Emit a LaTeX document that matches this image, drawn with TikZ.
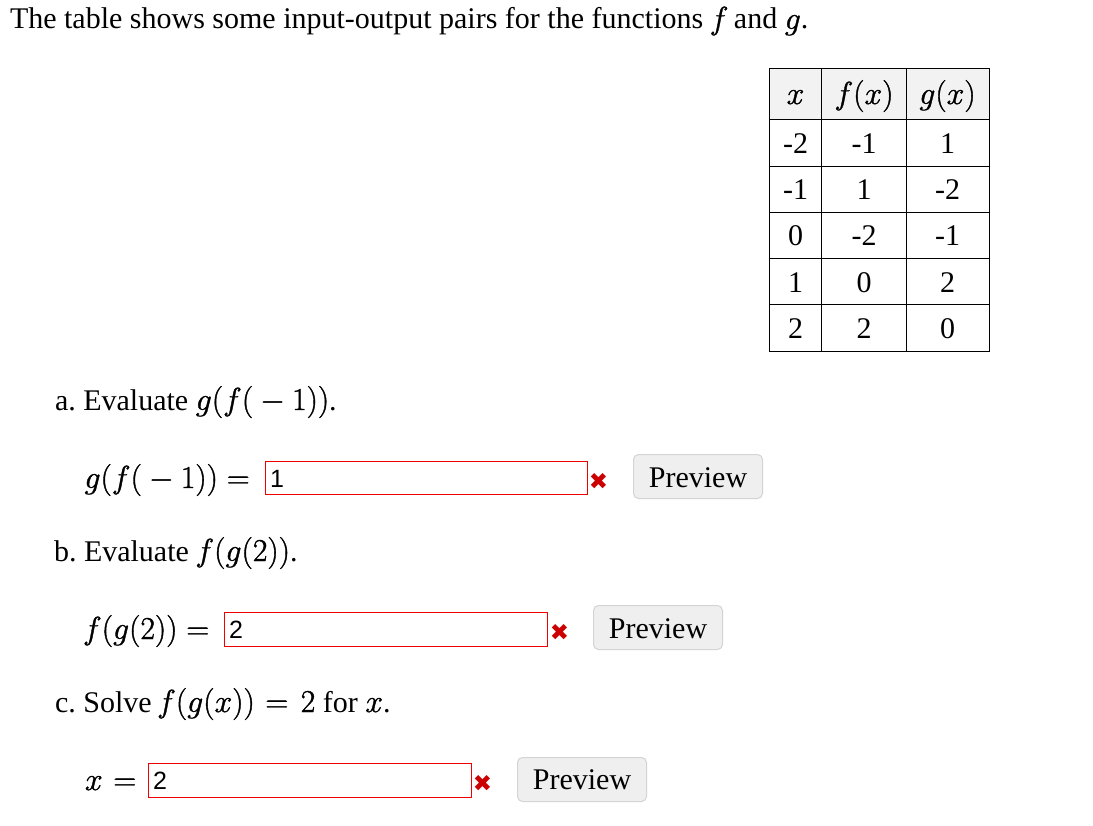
\documentclass[tikz,border=0pt]{standalone}
\usepackage{graphicx}
\usepackage{fontspec}
\setmainfont{Liberation Serif}
\newfontfamily\inputfont{Liberation Sans}
\newfontfamily\symfont{DejaVu Sans}
\definecolor{btnfill}{HTML}{EFEFEF}
\definecolor{btnline}{HTML}{D4D4D4}
\definecolor{headfill}{HTML}{F2F2F2}
\definecolor{wrongred}{HTML}{F00000}
\newcommand{\mth}[1]{\scalebox{1.28}{\special{pdf:code q 2 Tr 0.3 w}\fontsize{24.88}{27}\selectfont$#1$\special{pdf:code Q}}}
\tikzset{
  txt/.style={anchor=base west,inner sep=0pt,outer sep=0pt,font=\fontsize{30}{33}\selectfont},
  cell/.style={anchor=base,inner sep=0pt,outer sep=0pt,font=\fontsize{30}{33}\selectfont},
  answerbox/.style={draw=wrongred,line width=1pt,fill=white},
  answertext/.style={anchor=base west,inner sep=0pt,outer sep=0pt,font=\inputfont\fontsize{25}{27}\selectfont},
  cross/.style={anchor=center,inner sep=0pt,outer sep=0pt,text=wrongred!85!black,font=\symfont\fontsize{23}{26}\selectfont},
  previewbtn/.style={draw=btnline,fill=btnfill,line width=1pt,rounded corners=5pt},
  previewtext/.style={anchor=center,inner sep=0pt,outer sep=0pt,font=\fontsize{30}{33}\selectfont},
  gridline/.style={draw=black,line width=1pt}
}
\begin{document}
\begin{tikzpicture}[x=1pt,y=-1pt]
\useasboundingbox (0,0) rectangle (1093,826);
\fill[white] (0,0) rectangle (1093,826);
\node[txt] (title) at (10,29) {The table shows some input-output pairs for the functions\kern-1pt\ \mth{f}\kern-2pt\ and \mth{g}.};

% table
\fill[headfill] (769.5,68.5) rectangle (989.5,119.5);
\draw[gridline] (769.5,68.5) rectangle (989.5,351.5);
\foreach \yy in {119.5,166.5,212.5,258.5,304.5} \draw[gridline] (769.5,\yy) -- (989.5,\yy);
\foreach \xx in {821.5,906.5} \draw[gridline] (\xx,68.5) -- (\xx,351.5);
\node[cell] (h1) at (795.5,104) {\mth{x}};
\node[cell] (h2) at (864,104) {\mth{f(x)}};
\node[cell] (h3) at (947.5,104) {\mth{g(x)}};
\node[cell] (c11) at (795.5,154) {-2};
\node[cell] (c12) at (864,154) {-1};
\node[cell] (c13) at (947.5,154) {1};
\node[cell] (c21) at (795.5,200) {-1};
\node[cell] (c22) at (864,200) {1};
\node[cell] (c23) at (947.5,200) {-2};
\node[cell] (c31) at (795.5,246) {0};
\node[cell] (c32) at (864,246) {-2};
\node[cell] (c33) at (947.5,246) {-1};
\node[cell] (c41) at (795.5,293) {1};
\node[cell] (c42) at (864,293) {0};
\node[cell] (c43) at (947.5,293) {2};
\node[cell] (c51) at (795.5,339) {2};
\node[cell] (c52) at (864,339) {2};
\node[cell] (c53) at (947.5,339) {0};

% part a
\node[txt] (qa) at (55,410) {a.\ Evaluate \mth{g(f(\mskip4mu-\mskip4mu 1))}.};
\node[txt] (la) at (84.5,488) {\mth{g(f(\mskip4mu-\mskip4mu 1))=}};
\draw[answerbox] (265.5,461.5) rectangle (587.5,494.5);
\node[answertext] (va) at (270,487) {1};
\node[cross] (xa) at (598.5,481) {✖};
\draw[previewbtn] (633.5,454.5) rectangle (762.5,498.5);
\node[previewtext] (pa) at (698,478) {Preview};

% part b
\node[txt] (qb) at (54,561) {b.\ Evaluate\kern-1pt\ \mth{f(g(2))}.};
\node[txt] (lb) at (83,639) {\mth{f(g(2))=}};
\draw[answerbox] (224.5,612.5) rectangle (547.5,646.5);
\node[answertext] (vb) at (229,638) {2};
\node[cross] (xb) at (559.5,632) {✖};
\draw[previewbtn] (593.5,605.5) rectangle (722.5,649.5);
\node[previewtext] (pb) at (658,629) {Preview};

% part c
\node[txt] (qc) at (55,712) {c.\ Solve\kern-2pt\ \mth{f(g(x))\mskip1mu=\mskip2mu 2} for \mth{x}.};
\node[txt] (lc) at (85,790) {\mth{x\mskip1mu=}};
\draw[answerbox] (148.5,763.5) rectangle (471.5,797.5);
\node[answertext] (vc) at (153,789) {2};
\node[cross] (xc) at (482.5,783) {✖};
\draw[previewbtn] (517.5,757.5) rectangle (646.5,801.5);
\node[previewtext] (pc) at (582,780) {Preview};
\end{tikzpicture}
\end{document}
